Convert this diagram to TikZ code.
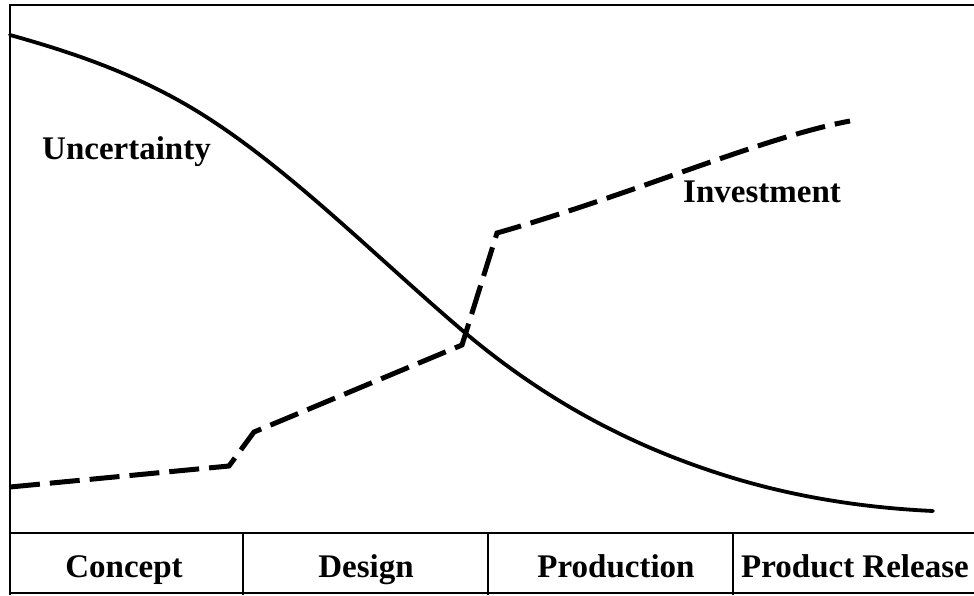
\documentclass[tikz,border=0pt]{standalone}
\usepackage{fontspec}
\setmainfont{Liberation Serif}
\begin{document}
\begin{tikzpicture}[x=1pt,y=-1pt,
  frame/.style={line width=2.5pt},
  unc/.style={line width=3.8pt},
  inv/.style={line width=5pt,dash pattern=on 30pt off 10pt},
  lbl/.style={font=\fontsize{33}{36}\selectfont\bfseries,inner sep=0pt,anchor=base}]
\useasboundingbox (0,0) rectangle (974,595);
\fill[white] (0,0) rectangle (974,595);
% frame
\draw[frame] (974,5) -- (10,5) -- (10,595);
\draw[frame] (10,533) -- (974,533);
\draw[line width=1.2pt] (10,593) -- (974,593);
\draw[frame] (243,533) -- (243,595);
\draw[frame] (488,533) -- (488,595);
\draw[frame] (733,533) -- (733,595);
% phase labels
\node[lbl] (concept) at (124,577) {Concept};
\node[lbl] (design) at (366,577) {Design};
\node[lbl] (production) at (616,577) {Production};
\node[lbl,anchor=base west] (release) at (741,577) {Product Release};
% curve labels
\node[lbl,anchor=base west] (uncl) at (42,159) {Uncertainty};
\node[lbl,anchor=base west] (invl) at (683,202) {Investment};
% uncertainty curve
\draw[unc,line cap=round] (10,35)
  .. controls (73,52.6) and (137,74) .. (200,113)
  .. controls (288,167.6) and (375,256) .. (463,331)
  .. controls (555,409) and (648,453) .. (740,480)
  .. controls (804,498.6) and (869,508) .. (933,511);
% investment curve
\draw[inv] (10,487) -- (229,466) -- (254,432) -- (462,345) -- (497,233)
  .. controls (640,192) and (760,138) .. (850,121);
\end{tikzpicture}
\end{document}
